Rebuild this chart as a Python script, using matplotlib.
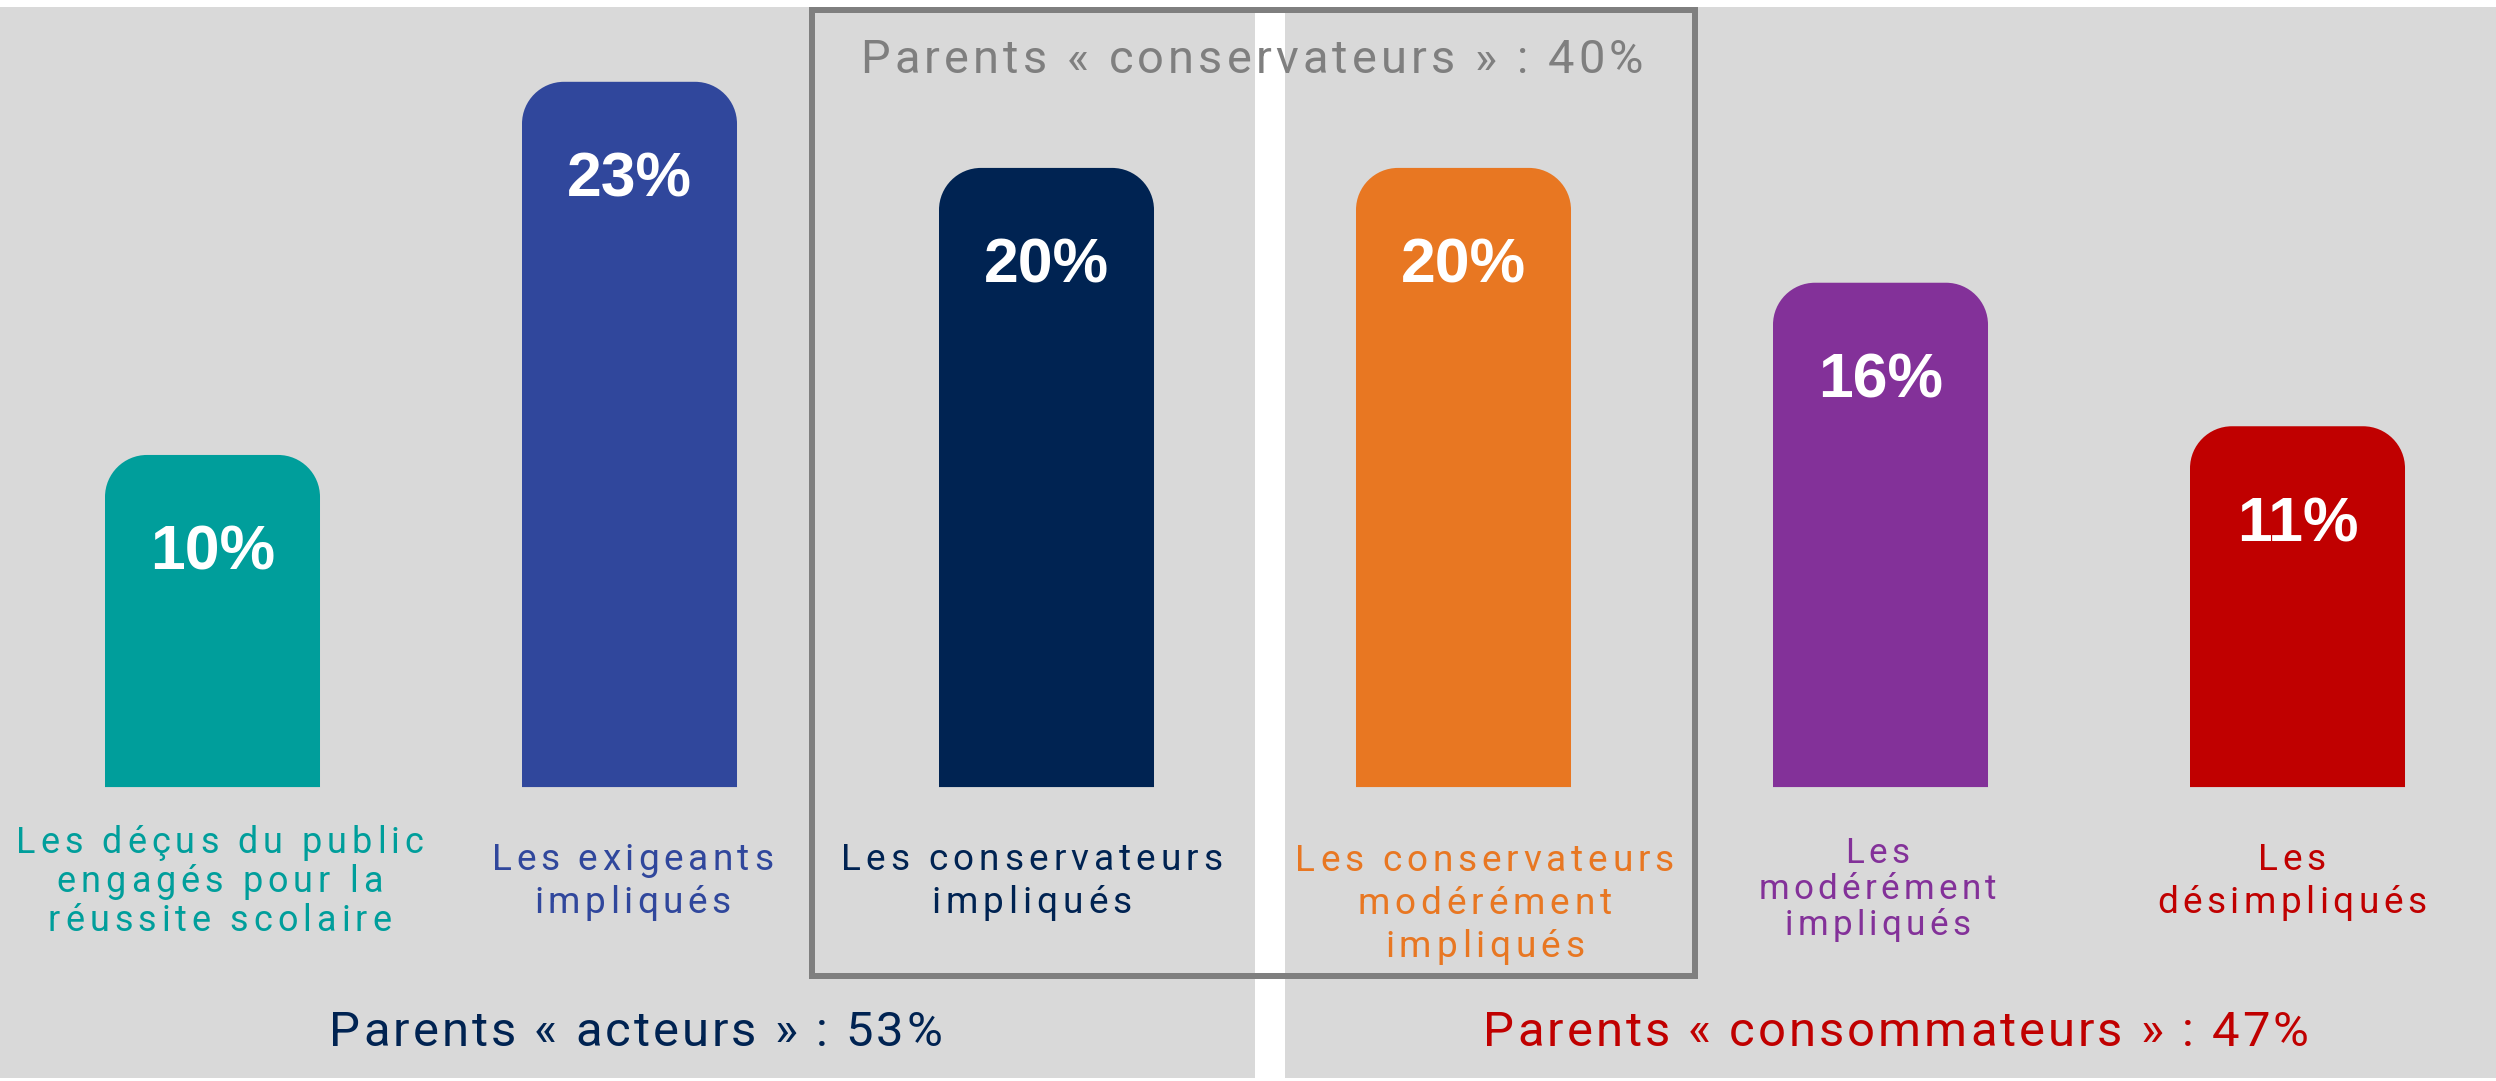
import matplotlib
matplotlib.use('Agg')
import matplotlib.pyplot as plt
from matplotlib.patches import Rectangle, PathPatch
from matplotlib.path import Path
from matplotlib.transforms import blended_transform_factory
from matplotlib.textpath import TextToPath
from matplotlib.font_manager import FontProperties

# ---------------- data ----------------
categories = [
    "Les déçus du public\nengagés pour la\nréussite scolaire",
    "Les exigeants\nimpliqués",
    "Les conservateurs\nimpliqués",
    "Les conservateurs\nmodérément\nimpliqués",
    "Les\nmodérément\nimpliqués",
    "Les\ndésimpliqués",
]
values = [10, 23, 20, 20, 16, 11]
value_labels = ["10%", "23%", "20%", "20%", "16%", "11%"]
bar_colors = ["#009E9B", "#30479C", "#002352", "#E87722", "#833199", "#C00000"]
group_actors = "Parents « acteurs » : 53%"
group_conservative = "Parents « conservateurs » : 40%"
group_consumers = "Parents « consommateurs » : 47%"

# ---------------- layout ----------------
W, H = 2496, 1081
DPI = 100
fig = plt.figure(figsize=(W / DPI, H / DPI), dpi=DPI)
ax = fig.add_axes([0, 0, 1, 1])
XL = (-0.5096, 5.476)
YL = (-11.81, 25.85)
ax.set_xlim(*XL)
ax.set_ylim(*YL)
ax.axis('off')

FONT = ['Roboto', 'DejaVu Sans']

def fx(px):
    return px / W

def fy(py):
    return 1 - py / H

_t2p = TextToPath()

def _adv(s, prop):
    """advance width (px) of string s, including trailing spaces"""
    if not s:
        return 0.0
    w1 = _t2p.get_text_width_height_descent(s + "|", prop, ismath=False)[0]
    w0 = _t2p.get_text_width_height_descent("|", prop, ismath=False)[0]
    return (w1 - w0) * DPI / 72

def tracked_text(x, trans, lines, baselines, size_px, track_px, color,
                 shift_px=0.0, zorder=5):
    """draw centred text lines with extra letter spacing"""
    pt = size_px * 72 / DPI
    prop = FontProperties(family=FONT, size=pt)
    for line, base in zip(lines, baselines):
        n = len(line)
        total = _adv(line, prop) + (n - 1) * track_px
        start = -total / 2 + shift_px
        for i, ch in enumerate(line):
            if ch == ' ':
                continue
            dx = start + _adv(line[:i], prop) + i * track_px
            ax.annotate(ch, xy=(x, fy(base)), xycoords=trans, xytext=(dx, 0),
                        textcoords='offset pixels', ha='left', va='baseline',
                        fontproperties=prop, color=color, zorder=zorder,
                        annotation_clip=False)

# backgrounds
bg = "#D9D9D9"
ax.add_patch(Rectangle((fx(0), fy(1078)), fx(1255), (1078 - 7) / H,
                       transform=fig.transFigure, facecolor=bg, edgecolor='none', zorder=0))
ax.add_patch(Rectangle((fx(1285), fy(1078)), fx(2496 - 1285), (1078 - 7) / H,
                       transform=fig.transFigure, facecolor=bg, edgecolor='none', zorder=0))

# bars with rounded top corners
BASE = -1.57
x = list(range(len(values)))
bars = ax.bar(x, [v - BASE for v in values], bottom=BASE, width=0.5156,
              color=bar_colors, alpha=0)

px_per_x = W / (XL[1] - XL[0])
px_per_y = H / (YL[1] - YL[0])
R = 42
rx, ry = R / px_per_x, R / px_per_y
k = 0.5523
for rect, c in zip(bars, bar_colors):
    x0, y0 = rect.get_x(), rect.get_y()
    x1, y1 = x0 + rect.get_width(), y0 + rect.get_height()
    verts = [
        (x0, y0), (x0, y1 - ry),
        (x0, y1 - ry + k * ry), (x0 + rx - k * rx, y1), (x0 + rx, y1),
        (x1 - rx, y1),
        (x1 - rx + k * rx, y1), (x1, y1 - ry + k * ry), (x1, y1 - ry),
        (x1, y0), (x0, y0),
    ]
    codes = [Path.MOVETO, Path.LINETO,
             Path.CURVE4, Path.CURVE4, Path.CURVE4,
             Path.LINETO,
             Path.CURVE4, Path.CURVE4, Path.CURVE4,
             Path.LINETO, Path.CLOSEPOLY]
    ax.add_patch(PathPatch(Path(verts, codes), facecolor=c, edgecolor='none', zorder=2))

# value labels
for xi, v, lab in zip(x, values, value_labels):
    ax.annotate(lab, (xi, v), xytext=(0, -115), textcoords='offset pixels',
                ha='center', va='baseline', fontsize=45, fontweight='bold',
                family=['Liberation Sans', 'DejaVu Sans'], color='white', zorder=3)

# category labels (tracked)
trans_dx = blended_transform_factory(ax.transData, fig.transFigure)
label_baselines = [
    [853, 892, 931],
    [870, 913],
    [870, 913],
    [871, 914, 957],
    [863, 899, 935],
    [870, 913],
]
label_px = [36, 37, 37, 37, 35, 37]
label_track = [5.0, 4.5, 5.0, 4.8, 4.3, 4.5]
label_shift = [7, 3, -15, 21, -3, -6]
for xi, cat, c, bl, spx, tr, sh in zip(x, categories, bar_colors, label_baselines,
                                        label_px, label_track, label_shift):
    tracked_text(xi, trans_dx, cat.split("\n"), bl, spx, tr, c, shift_px=sh, zorder=3)

# conservative box
ax.add_patch(Rectangle((fx(811.5), fy(975.5)), fx(1694.5 - 811.5), (975.5 - 10) / H,
                       transform=fig.transFigure, facecolor='none', edgecolor='#7F7F7F',
                       linewidth=6 * 0.72, zorder=4))

# group labels (tracked)
tracked_text(fx(1252), fig.transFigure, [group_conservative], [73], 47, 4.1, '#7F7F7F')
tracked_text(fx(636), fig.transFigure, [group_actors], [1046], 49, 3.0, '#002352')
tracked_text(fx(1896), fig.transFigure, [group_consumers], [1046], 49, 3.0, '#C00000')

fig.savefig('out.png', dpi=DPI, facecolor='white')
